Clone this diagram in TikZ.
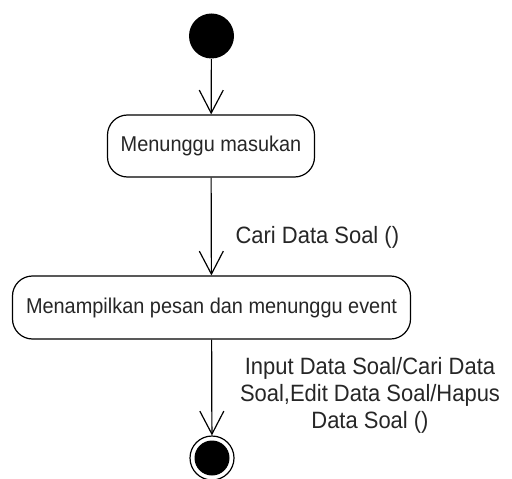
\documentclass[tikz,border=0pt]{standalone}
\usepackage{fontspec}
\setmainfont{Liberation Sans}
\usetikzlibrary{arrows.meta}
\newcommand{\tx}[1]{\scalebox{0.93}[1]{#1}}
\begin{document}
\begin{tikzpicture}[x=1bp,y=-1bp, line width=1.2bp,
  act/.style={draw, rounded corners=20bp, minimum height=62bp, inner sep=0,
    font=\fontsize{21.5}{21.5}\selectfont, text=black!85},
  flow/.style={-{Straight Barb[length=23bp,width=24bp,line width=1.2bp]}},
  lbl/.style={font=\fontsize{23.7}{27}\selectfont, text=black!85, inner sep=0, align=center}]
\useasboundingbox (0,0) rectangle (512,479);
\node[circle, fill=black, minimum size=45bp, inner sep=0] (start) at (211.5,36) {};
\node[act, minimum width=207bp] (a1) at (211,146) {\tx{Menunggu masukan}};
\node[act, minimum width=398bp, minimum height=63bp] (a2) at (211.5,307.5) {\tx{Menampilkan pesan dan menunggu event}};
\node[circle, draw, minimum size=44bp, inner sep=0] (end) at (212,458) {};
\node[circle, fill=black, minimum size=35bp, inner sep=0] (endin) at (end) {};
\draw[flow] (start) -- (a1);
\draw[flow] (a1) -- (a2);
\draw[flow] (a2) -- (end);
\node[lbl, anchor=west] (l1) at (235,237) {\tx{Cari Data Soal ()}};
\node[lbl] (l2) at (370,395) {\tx{Input Data Soal/Cari Data}\\ \tx{Soal,Edit Data Soal/Hapus}\\ \tx{Data Soal ()}};
\end{tikzpicture}
\end{document}
